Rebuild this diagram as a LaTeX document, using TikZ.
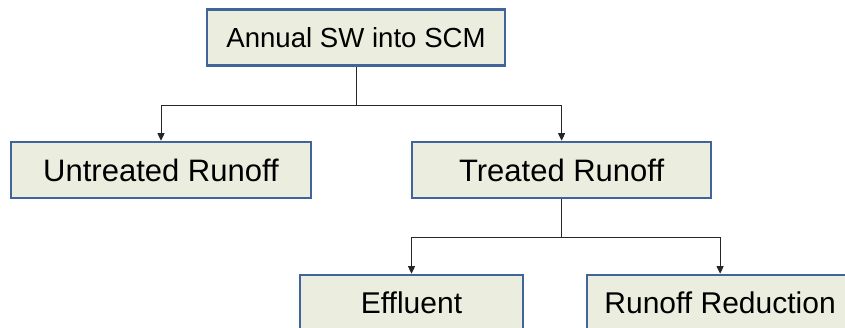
\documentclass[tikz,border=0pt]{standalone}
\usepackage{fontspec}
\setmainfont{Liberation Sans}
\usetikzlibrary{positioning, arrows.meta}

\definecolor{boxfill}{HTML}{EBEEDE}
\definecolor{boxline}{HTML}{41649B}

\begin{document}
\begin{tikzpicture}[x=1pt, y=-1pt,
    box/.style={draw=boxline, fill=boxfill, line width=2.6pt, minimum height=56pt, inner sep=0pt},
    link/.style={draw=black!85, line width=0.9pt},
    tip/.style={-{Triangle[length=7.5pt, width=7pt]}}]
    \clip (0,0) rectangle (845,328);
    \node[box, minimum width=298pt, font=\fontsize{27.6}{32}\selectfont] (annual) at (356,37.5) {Annual SW into SCM};
    \node[box, minimum width=300pt, font=\fontsize{31}{36}\selectfont] (untreated) at (161,170) {Untreated Runoff};
    \node[box, minimum width=299pt, font=\fontsize{31}{36}\selectfont, right=98.5pt of untreated] (treated) {Treated Runoff};
    \node[box, minimum width=223pt, font=\fontsize{30}{35}\selectfont] (effluent) at (411.5,303) {Effluent};
    \node[box, minimum width=266pt, font=\fontsize{30}{35}\selectfont, right=61.5pt of effluent] (reduction) {Runoff Reduction};
    \draw[link] (annual.south) -- ++(0,38.5) coordinate (split1);
    \draw[link, tip] (split1) -| (untreated.north);
    \draw[link, tip] (split1) -| (treated.north);
    \draw[link] (treated.south) -- ++(0,38.5) coordinate (split2);
    \draw[link, tip] (split2) -| (effluent.north);
    \draw[link, tip] (split2) -| (reduction.north);
\end{tikzpicture}
\end{document}
